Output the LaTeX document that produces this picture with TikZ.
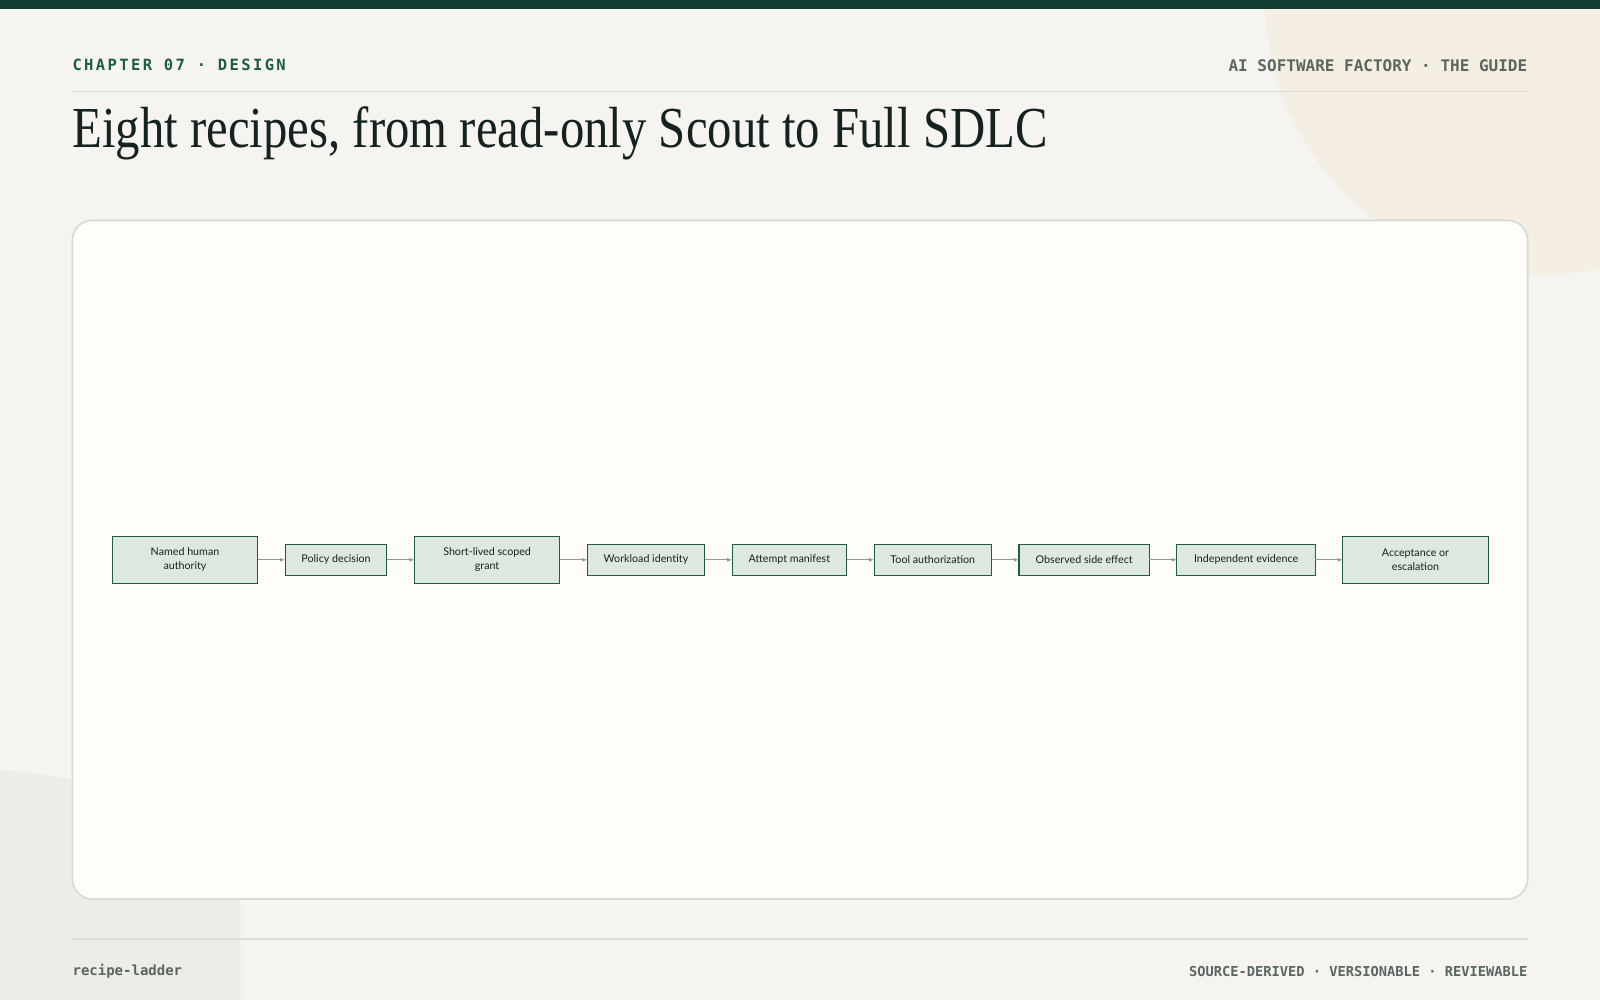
\documentclass[tikz,border=0pt]{standalone}
\usepackage{fontspec}
\usepackage{graphicx}
\setmainfont{Liberation Serif}
\newfontfamily\boxfont{Lato}
\newfontfamily\monofont{DejaVu Sans Mono}
\newfontfamily\chapfont[LetterSpace=15.5]{DejaVu Sans Mono}
\usetikzlibrary{positioning, arrows.meta}

\definecolor{pagebg}{HTML}{F5F4F0}
\definecolor{topbar}{HTML}{123D32}
\definecolor{blobtan}{HTML}{F5EEE3}
\definecolor{blobgrey}{HTML}{EDEDE8}
\definecolor{cardfill}{HTML}{FEFDF8}
\definecolor{cardline}{HTML}{D7DCD7}
\definecolor{rulegrey}{HTML}{DCDCD6}
\definecolor{chapgreen}{HTML}{1F5C45}
\definecolor{metagrey}{HTML}{5A6660}
\definecolor{titleink}{HTML}{14231D}
\definecolor{stagefill}{HTML}{DCE8E0}
\definecolor{stageline}{HTML}{1F5C45}
\definecolor{stageink}{HTML}{18221E}
\definecolor{flowgrey}{HTML}{8E9A93}

\tikzset{
  stage/.style = {draw=stageline, line width=1.1pt, fill=stagefill, text=stageink,
    font=\boxfont\fontsize{10.7}{14.3}\selectfont, minimum height=31pt,
    inner sep=0pt, outer sep=0pt},
  widestage/.style = {stage, minimum height=47pt, minimum width=145.4pt, align=center},
  flow/.style = {draw=flowgrey, line width=1.2pt, -{Latex[length=5pt, width=4pt]}},
  meta/.style = {anchor=base, inner sep=0pt, text=metagrey},
}

\begin{document}
\begin{tikzpicture}[x=1pt, y=1pt]
\useasboundingbox (0,0) rectangle (1600,1000);
% page and background shapes
\fill[pagebg] (0,0) rectangle (1600,1000);
\begin{scope}
\clip (0,0) rectangle (1600,1000);
\fill[blobtan] (1540,1000) circle (275);
\end{scope}
\fill[blobgrey] (0,230) .. controls (120,220) and (240,180) .. (240,101) -- (240,0) -- (0,0) -- cycle;
\fill[topbar] (0,991) rectangle (1600,1000);

% header
\node[anchor=base west, inner sep=0pt, text=chapgreen, font=\chapfont\bfseries\fontsize{15.5}{18}\selectfont] (chapter) at (72.3,929.8) {CHAPTER 07 · DESIGN};
\node[meta, anchor=base east, font=\monofont\bfseries\fontsize{16}{18}\selectfont] (guide) at (1527.4,928.3) {AI SOFTWARE FACTORY · THE GUIDE};
\draw[rulegrey, line width=1.2pt] (72.4,908.3) -- (1527.6,908.3);
\node[anchor=base west, inner sep=0pt, text=titleink, font=\fontsize{58}{64}\selectfont] (title) at (72.4,852) {\resizebox{975pt}{\height}{Eight recipes, from read-only Scout to Full SDLC}};

% card
\draw[cardline, fill=cardfill, line width=1.8pt, rounded corners=20pt] (72.4,101) rectangle (1527.6,779.6);

% recipe chain
\node[widestage, anchor=west] (authority) at (112.3,440.2) {Named human\\authority};
\node[stage, minimum width=101.7pt, right=27.5pt of authority] (policy) {Policy decision};
\node[widestage, right=27.5pt of policy] (grant) {Short-lived scoped\\grant};
\node[stage, minimum width=117.4pt, right=27.5pt of grant] (workload) {Workload identity};
\node[stage, minimum width=114.4pt, right=27.5pt of workload] (manifest) {Attempt manifest};
\node[stage, minimum width=117.4pt, right=27.5pt of manifest] (toolauth) {Tool authorization};
\node[stage, minimum width=130.4pt, right=27.5pt of toolauth] (sideeffect) {Observed side effect};
\node[stage, minimum width=138.4pt, right=27.5pt of sideeffect] (evidence) {Independent evidence};
\node[widestage, right=27.5pt of evidence] (verdict) {Acceptance or\\escalation};
\foreach \a/\b in {authority/policy, policy/grant, grant/workload, workload/manifest,
    manifest/toolauth, toolauth/sideeffect, sideeffect/evidence, evidence/verdict}
  \draw[flow] (\a) -- (\b);

% footer
\draw[rulegrey, line width=1.2pt] (72.4,61) -- (1527.6,61);
\node[meta, anchor=base west, font=\monofont\bfseries\fontsize{14}{16}\selectfont] (slug) at (72.4,24) {recipe-ladder};
\node[meta, anchor=base east, font=\monofont\bfseries\fontsize{13.7}{16}\selectfont] (tags) at (1527.6,23.3) {SOURCE-DERIVED · VERSIONABLE · REVIEWABLE};
\end{tikzpicture}
\end{document}
